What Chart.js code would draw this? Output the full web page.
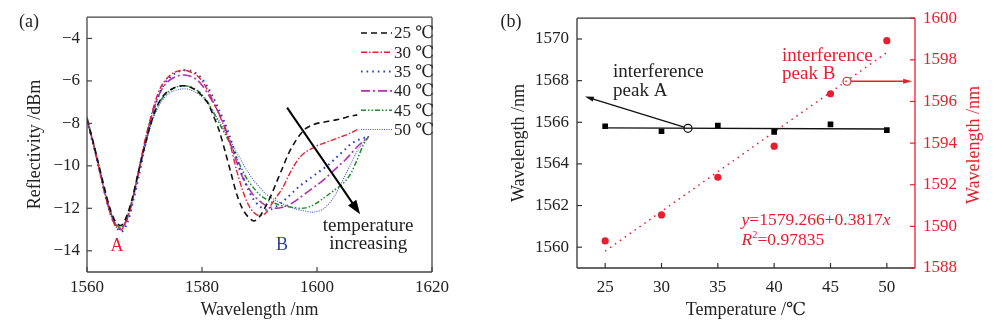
<!DOCTYPE html>
<html><head><meta charset="utf-8">
<script src="https://cdn.jsdelivr.net/npm/chart.js@4.4.0/dist/chart.umd.min.js"></script>
<style>
html,body{margin:0;padding:0;background:#fff;overflow:hidden}
#wrap{position:relative;width:1000px;height:325px}
.box{position:absolute;top:0;width:500px;height:325px}
</style></head><body>
<div id="wrap">
<div class="box" style="left:0"><canvas id="ca"></canvas></div>
<div class="box" style="left:500px"><canvas id="cb"></canvas></div>
</div>
<script>
// ---------------- DATA: panel (a) ----------------
const wavelengths = [1560,1561,1562,1563,1564,1565,1566,1567,1568,1569,
  1570,1571,1572,1573,1574,1575,1576,1577,1578,1579,
  1580,1581,1582,1583,1584,1585,1586,1587,1588,1589,
  1590,1591,1592,1593,1594,1595,1596,1597,1598,1599,
  1600,1601,1602,1603,1604,1605,1606,1607,1608,1609];
const refl25 = [-7.8,-8.8,-9.9,-11.0,-12.0,-12.65,-12.8,-12.3,-11.4,-10.2,
  -9.1,-8.1,-7.3,-6.8,-6.5,-6.35,-6.25,-6.23,-6.3,-6.45,
  -6.7,-7.05,-7.65,-8.35,-9.3,-10.3,-11.3,-12.0,-12.4,-12.6,
  -12.4,-11.95,-11.4,-10.75,-10.1,-9.45,-8.95,-8.55,-8.25,-8.1,
  -8.0,-7.95,-7.9,-7.85,-7.8,-7.72,-7.65,-7.6,null,null];
const refl30 = [-7.8,-8.85,-10.0,-11.2,-12.2,-12.85,-13.0,-12.5,-11.5,-10.2,
  -8.9,-7.8,-6.85,-6.2,-5.85,-5.62,-5.53,-5.5,-5.58,-5.72,
  -6.0,-6.45,-7.0,-7.6,-8.25,-9.1,-10.2,-11.1,-11.8,-12.2,
  -12.35,-12.25,-11.85,-11.45,-11.05,-10.5,-10.0,-9.6,-9.35,-9.2,
  -9.05,-8.95,-8.85,-8.75,-8.65,-8.55,-8.43,-8.3,null,null];
const refl35 = [-7.9,-8.9,-10.0,-11.2,-12.2,-12.85,-13.1,-12.7,-11.7,-10.5,
  -9.2,-8.0,-7.05,-6.35,-5.95,-5.7,-5.55,-5.5,-5.52,-5.65,
  -5.9,-6.3,-6.8,-7.4,-8.0,-8.75,-9.6,-10.45,-11.1,-11.6,
  -11.9,-12.05,-12.05,-11.9,-11.7,-11.45,-11.2,-10.95,-10.75,-10.55,
  -10.35,-10.15,-9.95,-9.7,-9.45,-9.2,-8.95,-8.8,-8.7,-8.6];
const refl40 = [-7.8,-8.85,-10.0,-11.15,-12.15,-12.8,-12.95,-12.45,-11.5,-10.3,
  -9.0,-7.9,-7.0,-6.4,-6.05,-5.85,-5.75,-5.72,-5.78,-5.92,
  -6.2,-6.6,-7.05,-7.55,-8.2,-9.0,-9.8,-10.5,-11.0,-11.4,
  -11.65,-11.85,-11.95,-12.0,-11.95,-11.85,-11.7,-11.5,-11.3,-11.1,
  -10.9,-10.7,-10.45,-10.2,-9.95,-9.7,-9.4,-9.1,-8.85,-8.65];
const refl45 = [-7.7,-8.8,-9.95,-11.1,-12.1,-12.75,-12.9,-12.4,-11.45,-10.25,
  -9.1,-8.1,-7.35,-6.85,-6.55,-6.35,-6.25,-6.23,-6.28,-6.42,
  -6.65,-7.0,-7.5,-8.0,-8.5,-9.0,-9.6,-10.2,-10.7,-11.05,
  -11.35,-11.55,-11.7,-11.8,-11.88,-11.93,-11.97,-12.0,-11.98,-11.9,
  -11.75,-11.55,-11.35,-11.15,-10.95,-10.7,-10.3,-9.7,-9.05,-8.6];
const refl50 = [-7.9,-8.9,-10.0,-11.1,-12.1,-12.75,-12.95,-12.5,-11.5,-10.35,
  -9.2,-8.2,-7.45,-6.95,-6.65,-6.48,-6.4,-6.37,-6.42,-6.55,
  -6.75,-7.05,-7.45,-7.9,-8.4,-8.85,-9.35,-9.85,-10.3,-10.7,
  -11.0,-11.3,-11.5,-11.65,-11.78,-11.9,-12.0,-12.08,-12.13,-12.18,
  -12.15,-12.05,-11.8,-11.45,-10.95,-10.4,-9.85,-9.3,-8.9,-8.6];
const seriesLabels = ['25 ℃','30 ℃','35 ℃','40 ℃','45 ℃','50 ℃'];
const xTicksA = [1560,1580,1600,1620];
const yTicksA = [-14,-12,-10,-8,-6,-4];

// ---------------- DATA: panel (b) ----------------
const temperatures = [25,30,35,40,45,50];
const peakA = [1565.81,1565.57,1565.84,1565.54,1565.90,1565.62];
const peakB = [1589.30,1590.55,1592.36,1593.85,1596.37,1598.92];
const fitTemps = [25,50];
const fitA = [1565.73,1565.68];
const fitB = [1588.81,1598.35];
const xTicksB = [25,30,35,40,45,50];
const yTicksBL = [1560,1562,1564,1566,1568,1570];
const yTicksBR = [1588,1590,1592,1594,1596,1598,1600];

const FONT = '"Liberation Serif","DejaVu Serif","Times New Roman",serif';
const RED = '#e61e2d';
const INK = '#222';

function pts(xs, ys){ return xs.map((x,i)=>({x:x,y:ys[i]})); }
function fixedTicks(arr){ return s => { s.ticks = arr.map(v=>({value:v})); }; }
const plain = v => String(v).replace('-','\u2212');

function arrow(ctx,x0,y0,x1,y1,color,lw,hl,hw,cut){
  const a=Math.atan2(y1-y0,x1-x0), c=Math.cos(a), s=Math.sin(a);
  const sx=x0+c*(cut||0), sy=y0+s*(cut||0);
  ctx.strokeStyle=color; ctx.lineWidth=lw; ctx.setLineDash([]);
  ctx.beginPath(); ctx.moveTo(sx,sy); ctx.lineTo(x1-c*hl*0.7,y1-s*hl*0.7); ctx.stroke();
  ctx.fillStyle=color; ctx.beginPath(); ctx.moveTo(x1,y1);
  ctx.lineTo(x1-c*hl+s*hw/2, y1-s*hl-c*hw/2);
  ctx.lineTo(x1-c*hl-s*hw/2, y1-s*hl+c*hw/2);
  ctx.closePath(); ctx.fill();
}
function richText(ctx,parts,x,y,size,color){
  let cx=x; ctx.fillStyle=color; ctx.textAlign='left'; ctx.textBaseline='alphabetic';
  parts.forEach(p=>{
    const sz = p.sup ? size*0.6 : size;
    ctx.font=(p.it?'italic ':'')+sz+'px '+FONT;
    ctx.fillText(p.t,cx,p.sup? y-size*0.42 : y);
    cx+=ctx.measureText(p.t).width;
  });
}

// frame + inner ticks
const framePlugin = {
  id:'frame',
  afterDraw(chart,args,o){
    const {ctx,chartArea:{left,right,top,bottom}}=chart;
    ctx.save(); ctx.setLineDash([]); ctx.lineWidth=1.3;
    const seg=(c,x0,y0,x1,y1)=>{ctx.strokeStyle=c;ctx.beginPath();ctx.moveTo(x0,y0);ctx.lineTo(x1,y1);ctx.stroke();};
    seg(o.top,left,top,right,top);
    seg(o.bottom,left,bottom,right,bottom);
    seg(o.left,left,top,left,bottom);
    seg(o.right,right,top,right,bottom);
    o.ticks.forEach(t=>{
      const sc=chart.scales[t.id]; ctx.lineWidth=1.2;
      sc.ticks.forEach(tk=>{
        const p=sc.getPixelForValue(tk.value);
        if(t.side==='bottom') seg(t.color,p,bottom,p,bottom-5);
        if(t.side==='left') seg(t.color,left,p,left+5,p);
        if(t.side==='right') seg(t.color,right,p,right-5,p);
      });
    });
    ctx.restore();
  }
};

// ---------------- panel (a) ----------------
const styleA = [
  {c:'#111111', d:[6,4], w:1.6},
  {c:RED, d:[6,2,1.5,2], w:1.4},
  {c:'#2a3ec8', d:[1.6,4], w:2.0},
  {c:'#b02fb4', d:[9,3,2,3], w:1.6},
  {c:'#1e8c2a', d:[5,2,1.5,2,1.5,2], w:1.5},
  {c:'#4a58bf', d:[1,1.3], w:1.1}
];
const reflSeries = [refl25,refl30,refl35,refl40,refl45,refl50];

const annotA = {
  id:'annotA',
  afterDatasetsDraw(chart){
    const {ctx,scales:{x,y}}=chart; ctx.save();
    // legend
    chart.data.datasets.forEach((ds,i)=>{
      const ly=33+i*19.3;
      ctx.strokeStyle=ds.borderColor; ctx.lineWidth=ds.borderWidth; ctx.setLineDash(ds.borderDash);
      ctx.beginPath(); ctx.moveTo(361,ly); ctx.lineTo(392,ly); ctx.stroke();
      ctx.setLineDash([]);
      ctx.fillStyle=INK; ctx.font='17px '+FONT; ctx.textAlign='left'; ctx.textBaseline='middle';
      ctx.fillText(ds.label,394,ly+1);
    });
    // arrow
    arrow(ctx,x.getPixelForValue(1594.8),y.getPixelForValue(-7.26),x.getPixelForValue(1607.5),y.getPixelForValue(-12.28),'#000',2,14,10,0);
    ctx.textAlign='center'; ctx.textBaseline='middle';
    ctx.font='19px '+FONT; ctx.fillStyle=INK;
    ctx.fillText('temperature',x.getPixelForValue(1608.9),y.getPixelForValue(-12.84));
    ctx.fillText('increasing',x.getPixelForValue(1608.9),y.getPixelForValue(-13.67));
    ctx.font='18px '+FONT;
    ctx.fillStyle=RED; ctx.fillText('A',x.getPixelForValue(1565.2),y.getPixelForValue(-13.8));
    ctx.fillStyle='#2e3f9e'; ctx.fillText('B',x.getPixelForValue(1593.9),y.getPixelForValue(-13.72));
    ctx.fillStyle=INK; ctx.font='18px '+FONT; ctx.fillText('(a)',29,22);
    ctx.restore();
  }
};

new Chart(document.getElementById('ca'),{
  type:'line',
  data:{datasets: reflSeries.map((s,i)=>({
    label:seriesLabels[i], data:pts(wavelengths,s),
    borderColor:styleA[i].c, borderDash:styleA[i].d, borderWidth:styleA[i].w,
    pointRadius:0, tension:0.3, fill:false, spanGaps:false
  }))},
  options:{
    responsive:true, maintainAspectRatio:false, animation:false, devicePixelRatio:1,
    layout:{padding:{left:0,top:16,right:68,bottom:0}},
    plugins:{legend:{display:false},tooltip:{enabled:false},
      frame:{top:'#444',bottom:'#444',left:'#444',right:'#444',
        ticks:[{id:'x',side:'bottom',color:'#444'},{id:'y',side:'left',color:'#444'}]}},
    scales:{
      x:{type:'linear',min:1560,max:1620,afterBuildTicks:fixedTicks(xTicksA),
        grid:{display:false,drawTicks:false},border:{display:false},
        ticks:{color:INK,font:{family:FONT,size:17},padding:5,maxRotation:0,callback:plain},
        title:{display:true,text:'Wavelength /nm',color:INK,font:{family:FONT,size:18},padding:{top:0,bottom:4}},
        afterFit:s=>{s.height=53;}},
      y:{type:'linear',min:-15,max:-3,afterBuildTicks:fixedTicks(yTicksA),
        grid:{display:false,drawTicks:false},border:{display:false},
        ticks:{color:INK,font:{family:FONT,size:17},padding:7,callback:plain},
        title:{display:true,text:'Reflectivity /dBm',color:INK,font:{family:FONT,size:18},padding:{top:24,bottom:0}},
        afterFit:s=>{s.width=87;}}
    }
  },
  plugins:[framePlugin,annotA]
});

// ---------------- panel (b) ----------------
const annotB = {
  id:'annotB',
  afterDatasetsDraw(chart){
    const {ctx,scales:{x,yL,yR},chartArea}=chart; ctx.save();
    arrow(ctx,x.getPixelForValue(32.35),yL.getPixelForValue(1565.71),x.getPixelForValue(23.2),yL.getPixelForValue(1567.24),'#111',1.3,9,5,4);
    arrow(ctx,x.getPixelForValue(46.46),yR.getPixelForValue(1596.97),x.getPixelForValue(52.25),yR.getPixelForValue(1596.97),RED,1.3,9,5,4);
    ctx.font='19px '+FONT; ctx.textAlign='left'; ctx.textBaseline='middle';
    ctx.fillStyle=INK;
    ctx.fillText('interference',x.getPixelForValue(25.7),yL.getPixelForValue(1568.4));
    ctx.fillText('peak A',x.getPixelForValue(25.7),yL.getPixelForValue(1567.5));
    ctx.fillStyle=RED;
    ctx.fillText('interference',x.getPixelForValue(40.7),yR.getPixelForValue(1598.17));
    ctx.fillText('peak B',x.getPixelForValue(40.7),yR.getPixelForValue(1597.3));
    richText(ctx,[{t:'y',it:true},{t:'=1579.266+0.3817'},{t:'x',it:true}],x.getPixelForValue(37.1),yR.getPixelForValue(1590.36)+6,17.5,RED);
    richText(ctx,[{t:'R',it:true},{t:'2',sup:true},{t:'=0.97835'}],x.getPixelForValue(37.1),yR.getPixelForValue(1589.4)+6,17.5,RED);
    ctx.fillStyle=INK; ctx.font='18px '+FONT; ctx.textAlign='center'; ctx.textBaseline='middle';
    ctx.fillText('(b)',11,22);
    // right axis title, reading bottom-to-top as in the original
    ctx.save();
    ctx.translate(474,(chartArea.top+chartArea.bottom)/2+2);
    ctx.rotate(-Math.PI/2);
    ctx.fillStyle=RED; ctx.font='18px '+FONT; ctx.textAlign='center'; ctx.textBaseline='middle';
    ctx.fillText('Wavelength /nm',0,0);
    ctx.restore();
    ctx.restore();
  }
};

new Chart(document.getElementById('cb'),{
  type:'scatter',
  data:{datasets:[
    {label:'fit A',data:pts(fitTemps,fitA),yAxisID:'yL',showLine:true,borderColor:'#111',borderWidth:1.4,pointRadius:0},
    {label:'peak A',data:pts(temperatures,peakA),yAxisID:'yL',pointStyle:'rect',pointRadius:4,backgroundColor:'#000',borderColor:'#000',borderWidth:0},
    {label:'fit B',data:pts(fitTemps,fitB),yAxisID:'yR',showLine:true,borderColor:RED,borderWidth:1.5,borderDash:[1.5,4.5],pointRadius:0},
    {label:'peak B',data:pts(temperatures,peakB),yAxisID:'yR',pointStyle:'circle',pointRadius:3.6,backgroundColor:RED,borderColor:RED,borderWidth:0},
    {label:'marker A',data:[{x:32.35,y:1565.71}],yAxisID:'yL',pointStyle:'circle',pointRadius:4,backgroundColor:'#fff',borderColor:'#111',borderWidth:1.2},
    {label:'marker B',data:[{x:46.46,y:1596.97}],yAxisID:'yR',pointStyle:'circle',pointRadius:4,backgroundColor:'#fff',borderColor:RED,borderWidth:1.2}
  ]},
  options:{
    responsive:true, maintainAspectRatio:false, animation:false, devicePixelRatio:1,
    layout:{padding:{left:0,top:16,right:0,bottom:0}},
    plugins:{legend:{display:false},tooltip:{enabled:false},
      frame:{top:'#333',bottom:'#333',left:'#333',right:RED,
        ticks:[{id:'x',side:'bottom',color:'#333'},{id:'yL',side:'left',color:'#333'},{id:'yR',side:'right',color:RED}]}},
    scales:{
      x:{type:'linear',min:22.5,max:52.5,afterBuildTicks:fixedTicks(xTicksB),
        grid:{display:false,drawTicks:false},border:{display:false},
        ticks:{color:INK,font:{family:FONT,size:17},padding:9,maxRotation:0,callback:plain},
        title:{display:true,text:'Temperature /℃',color:INK,font:{family:FONT,size:18},padding:{top:0,bottom:4}},
        afterFit:s=>{s.height=57;}},
      yL:{type:'linear',position:'left',min:1559,max:1571,afterBuildTicks:fixedTicks(yTicksBL),
        grid:{display:false,drawTicks:false},border:{display:false},
        ticks:{color:INK,font:{family:FONT,size:17},padding:8,callback:plain},
        title:{display:true,text:'Wavelength /nm',color:INK,font:{family:FONT,size:18},padding:{top:8,bottom:0}},
        afterFit:s=>{s.width=77;}},
      yR:{type:'linear',position:'right',min:1588,max:1600,afterBuildTicks:fixedTicks(yTicksBR),
        grid:{display:false,drawTicks:false},border:{display:false},
        ticks:{color:RED,font:{family:FONT,size:17},padding:8,callback:plain},
        title:{display:false},
        afterFit:s=>{s.width=85;}}
    }
  },
  plugins:[framePlugin,annotB]
});
</script>
</body></html>
